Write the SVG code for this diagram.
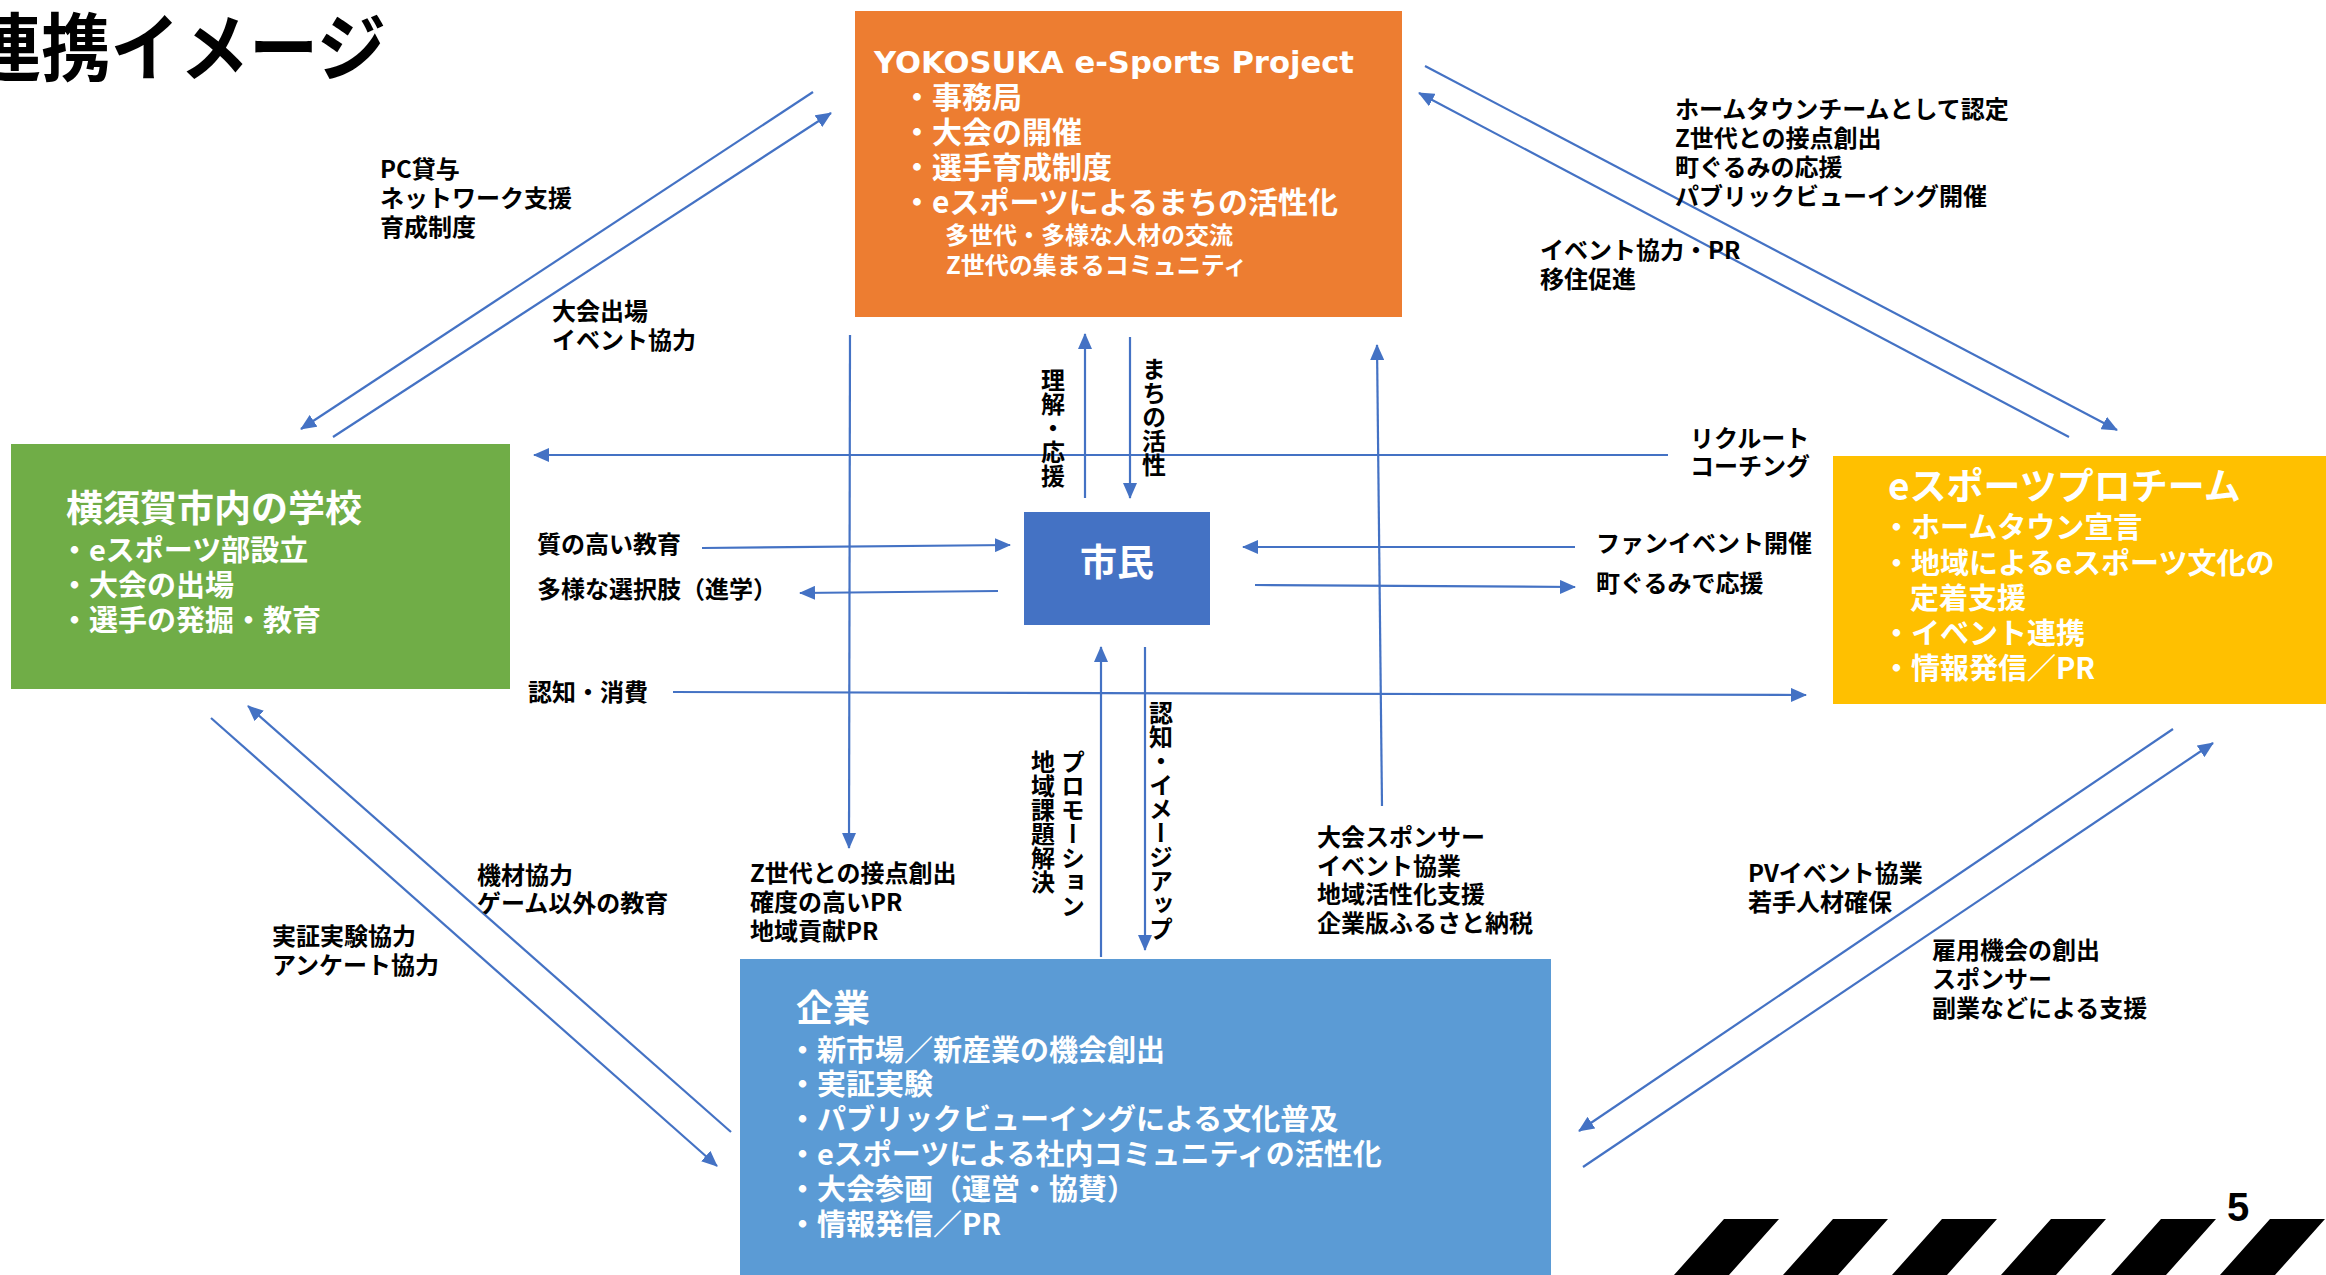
<svg xmlns="http://www.w3.org/2000/svg" width="2326" height="1275" viewBox="0 0 2326 1275">
<defs>
<marker id="ah" markerUnits="userSpaceOnUse" markerWidth="16" markerHeight="14" viewBox="0 0 16 14" refX="15" refY="7" orient="auto">
<path d="M0,0 L16,7 L0,14 z" fill="#4472C4"/>
</marker>
<style>
text{font-family:"Noto Sans CJK JP","Noto Sans",sans-serif;font-weight:700}
.lbl{font-size:24px;fill:#000}
.vt{font-size:24px;fill:#000;writing-mode:vertical-rl}
.w{fill:#fff}
.t37{font-size:37px}
.t29{font-size:29px}
.t30{font-size:30px}
.t24{font-size:24px}
.conn line{stroke:#4472C4;stroke-width:2.2;fill:none;marker-end:url(#ah)}
</style>
</defs>
<rect width="2326" height="1275" fill="#fff"/>
<text x="-28" y="75" font-size="74" font-weight="900" fill="#000" textLength="414" lengthAdjust="spacingAndGlyphs">連携イメージ</text>

<g id="conn" class="conn">
<line x1="813" y1="92" x2="301" y2="429"/>
<line x1="333" y1="437" x2="831" y2="113"/>
<line x1="1425" y1="66" x2="2117" y2="430"/>
<line x1="2069" y1="437" x2="1419" y2="93"/>
<line x1="1668" y1="455" x2="534" y2="455"/>
<line x1="702" y1="548" x2="1010" y2="545"/>
<line x1="998" y1="591" x2="800" y2="593"/>
<line x1="673" y1="692" x2="1806" y2="695"/>
<line x1="1575" y1="547" x2="1243" y2="547"/>
<line x1="1255" y1="585" x2="1575" y2="587"/>
<line x1="1085" y1="498" x2="1085" y2="334"/>
<line x1="1130" y1="337" x2="1130" y2="498"/>
<line x1="850" y1="335" x2="849" y2="848"/>
<line x1="1382" y1="806" x2="1377" y2="345"/>
<line x1="1101" y1="957" x2="1101" y2="647"/>
<line x1="1145" y1="647" x2="1145" y2="950"/>
<line x1="211" y1="718" x2="717" y2="1166"/>
<line x1="731" y1="1132" x2="248" y2="706"/>
<line x1="2173" y1="729" x2="1579" y2="1131"/>
<line x1="1583" y1="1167" x2="2213" y2="743"/>
</g>

<g id="node-project">
<rect x="855" y="11" width="547" height="306" fill="#ED7D31"/>
<text x="874" y="73" class="w" font-family="DejaVu Sans" font-size="31" textLength="480" lengthAdjust="spacingAndGlyphs" style="font-family:'DejaVu Sans',sans-serif">YOKOSUKA e-Sports Project</text>
<text x="902" y="108" class="w t30">・事務局</text>
<text x="902" y="143" class="w t30">・大会の開催</text>
<text x="902" y="178" class="w t30">・選手育成制度</text>
<text x="902" y="213" class="w t30">・eスポーツによるまちの活性化</text>
<text x="945" y="244" class="w t24">多世代・多様な人材の交流</text>
<text x="946" y="274" class="w t24">Z世代の集まるコミュニティ</text>
</g>

<g id="node-school">
<rect x="11" y="444" width="499" height="245" fill="#70AD47"/>
<text x="66" y="522" class="w t37">横須賀市内の学校</text>
<text x="60" y="561" class="w t29">・eスポーツ部設立</text>
<text x="60" y="596" class="w t29">・大会の出場</text>
<text x="60" y="631" class="w t29">・選手の発掘・教育</text>
</g>

<g id="node-citizen">
<rect x="1024" y="512" width="186" height="113" fill="#4472C4"/>
<text x="1117" y="576" class="w" font-size="37" text-anchor="middle">市民</text>
</g>

<g id="node-team">
<rect x="1833" y="456" width="493" height="248" fill="#FFC000"/>
<text x="1888" y="500" class="w t37">eスポーツプロチーム</text>
<text x="1882" y="538" class="w t29">・ホームタウン宣言</text>
<text x="1882" y="574" class="w t29">・地域によるeスポーツ文化の</text>
<text x="1910" y="609" class="w t29">定着支援</text>
<text x="1882" y="644" class="w t29">・イベント連携</text>
<text x="1882" y="679" class="w t29">・情報発信／PR</text>
</g>

<g id="node-company">
<rect x="740" y="959" width="811" height="316" fill="#5B9BD5"/>
<text x="796" y="1022" class="w t37">企業</text>
<text x="788" y="1061" class="w t29">・新市場／新産業の機会創出</text>
<text x="788" y="1095" class="w t29">・実証実験</text>
<text x="788" y="1130" class="w t29">・パブリックビューイングによる文化普及</text>
<text x="788" y="1165" class="w t29">・eスポーツによる社内コミュニティの活性化</text>
<text x="788" y="1200" class="w t29">・大会参画（運営・協賛）</text>
<text x="788" y="1235" class="w t29">・情報発信／PR</text>
</g>

<g id="labels">
<text class="lbl" x="380" y="178">PC貸与</text>
<text class="lbl" x="380" y="207">ネットワーク支援</text>
<text class="lbl" x="380" y="236">育成制度</text>
<text class="lbl" x="552" y="320">大会出場</text>
<text class="lbl" x="552" y="349">イベント協力</text>
<text class="lbl" x="1675" y="118">ホームタウンチームとして認定</text>
<text class="lbl" x="1675" y="147">Z世代との接点創出</text>
<text class="lbl" x="1675" y="176">町ぐるみの応援</text>
<text class="lbl" x="1675" y="205">パブリックビューイング開催</text>
<text class="lbl" x="1540" y="259">イベント協力・PR</text>
<text class="lbl" x="1540" y="288">移住促進</text>
<text class="lbl" x="1690" y="447">リクルート</text>
<text class="lbl" x="1690" y="475">コーチング</text>
<text class="lbl" x="537" y="553">質の高い教育</text>
<text class="lbl" x="537" y="598">多様な選択肢（進学）</text>
<text class="lbl" x="528" y="701">認知・消費</text>
<text class="lbl" x="1596" y="552">ファンイベント開催</text>
<text class="lbl" x="1596" y="592">町ぐるみで応援</text>
<text class="lbl" x="750" y="882">Z世代との接点創出</text>
<text class="lbl" x="750" y="911">確度の高いPR</text>
<text class="lbl" x="750" y="940">地域貢献PR</text>
<text class="lbl" x="1317" y="846">大会スポンサー</text>
<text class="lbl" x="1317" y="875">イベント協業</text>
<text class="lbl" x="1317" y="903">地域活性化支援</text>
<text class="lbl" x="1317" y="932">企業版ふるさと納税</text>
<text class="lbl" x="477" y="884">機材協力</text>
<text class="lbl" x="477" y="912">ゲーム以外の教育</text>
<text class="lbl" x="272" y="945">実証実験協力</text>
<text class="lbl" x="272" y="974">アンケート協力</text>
<text class="lbl" x="1748" y="882">PVイベント協業</text>
<text class="lbl" x="1748" y="911">若手人材確保</text>
<text class="lbl" x="1932" y="959">雇用機会の創出</text>
<text class="lbl" x="1932" y="988">スポンサー</text>
<text class="lbl" x="1932" y="1017">副業などによる支援</text>
<text class="vt" x="1053" y="368">理解・応援</text>
<text class="vt" x="1154" y="357">まちの活性</text>
<text class="vt" x="1073" y="750">プロモーション</text>
<text class="vt" x="1043" y="750">地域課題解決</text>
<text class="vt" x="1161" y="701">認知・イメージアップ</text>
</g>

<g id="footer">
<text x="2227" y="1221" font-size="40" fill="#000" style="font-family:'Liberation Sans',sans-serif;font-weight:700">5</text>
<path d="M1724,1219 L1779,1219 L1729,1275 L1674,1275 Z M1833,1219 L1888,1219 L1838,1275 L1783,1275 Z M1942,1219 L1997,1219 L1947,1275 L1892,1275 Z M2051,1219 L2106,1219 L2056,1275 L2001,1275 Z M2161,1219 L2216,1219 L2166,1275 L2111,1275 Z M2270,1219 L2325,1219 L2275,1275 L2220,1275 Z" fill="#000"/>
</g>
</svg>
